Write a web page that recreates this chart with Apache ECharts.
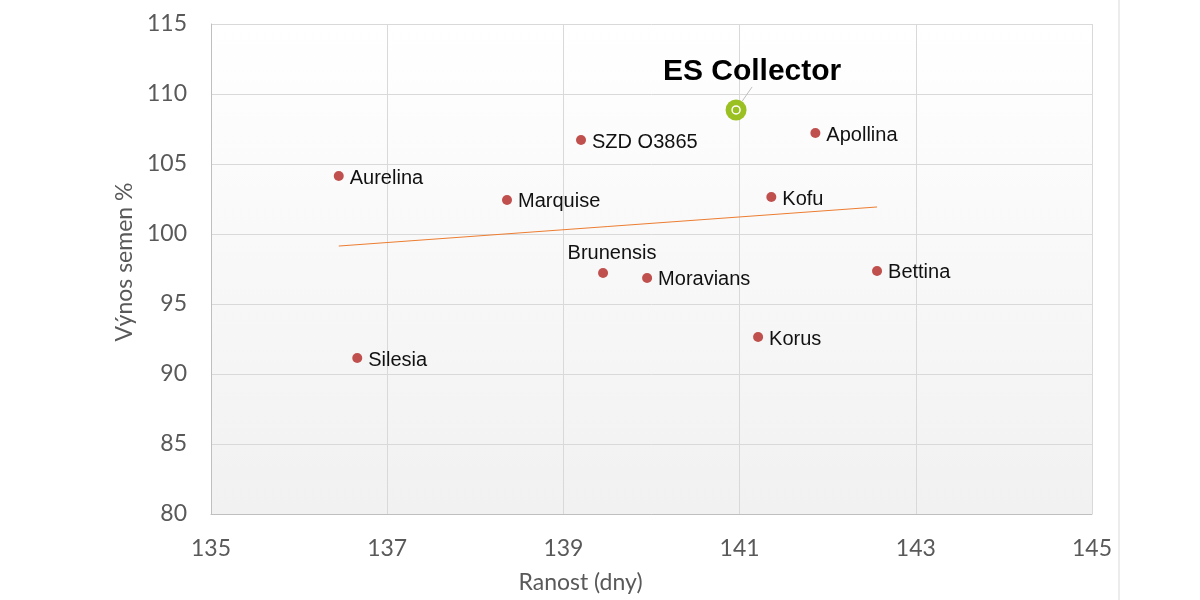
<!DOCTYPE html>
<html>
<head>
<meta charset="utf-8">
<script src="https://cdn.jsdelivr.net/npm/echarts@6/dist/echarts.min.js"></script>
<style>
  html, body { margin: 0; padding: 0; background: #fff; }
  #chart { width: 1200px; height: 600px; }
</style>
</head>
<body>
<div id="chart"></div>
<script>
// odrůdy a jejich hodnoty
const varieties = ['Aurelina', 'Silesia', 'Marquise', 'SZD O3865', 'Brunensis', 'Moravians', 'Kofu', 'Apollina', 'Korus', 'Bettina']
const ranost = [136.45, 136.66, 138.36, 139.2, 139.45, 139.95, 141.36, 141.86, 141.21, 142.56]
const vynos = [104.14, 91.14, 102.43, 106.71, 97.21, 96.86, 102.64, 107.21, 92.64, 97.36]

const highlightName = ['ES Collector']
const highlightX = [140.96]
const highlightY = [108.86]

// spojnice trendu - koncové body
const trendX = [136.45, 142.56]
const trendY = [99.14, 101.93]

const chart = echarts.init(document.getElementById('chart'))

const axisFont = 'Lato, "Open Sans", sans-serif'
const labelFont = '"Liberation Sans", Arial, sans-serif'

const option = {
  animation: false,
  backgroundColor: '#fff',
  grid: {
    left: 211,
    right: 108,
    top: 24,
    bottom: 86,
    show: true,
    borderWidth: 0,
    backgroundColor: new echarts.graphic.LinearGradient(0, 0, 0, 1, [
      { offset: 0, color: '#ffffff' },
      { offset: 1, color: '#f1f1f1' },
    ]),
  },
  xAxis: {
    type: 'value',
    min: 135,
    max: 145,
    interval: 2,
    name: 'Ranost (dny)',
    nameLocation: 'middle',
    nameGap: 57,
    nameTextStyle: { color: '#595959', fontSize: 23, fontFamily: axisFont, padding: [0, 142, 0, 0] },
    axisLine: { show: true, lineStyle: { color: '#bfbfbf' } },
    axisTick: { show: false },
    axisLabel: { color: '#595959', fontSize: 23, fontFamily: axisFont, margin: 23 },
    splitLine: { show: true, lineStyle: { color: '#d9d9d9' } },
  },
  yAxis: {
    type: 'value',
    min: 80,
    max: 115,
    interval: 5,
    name: 'Výnos semen %',
    nameLocation: 'middle',
    nameGap: 74,
    nameTextStyle: { color: '#595959', fontSize: 23, fontFamily: axisFont, padding: [0, 0, 0, 14] },
    axisLine: { show: true, lineStyle: { color: '#bfbfbf' } },
    axisTick: { show: false },
    axisLabel: { color: '#595959', fontSize: 23, fontFamily: axisFont, margin: 24 },
    splitLine: { show: true, lineStyle: { color: '#d9d9d9' } },
  },
  graphic: [
    {
      type: 'line',
      shape: { x1: 1119, y1: 0, x2: 1119, y2: 600 },
      style: { stroke: '#d9d9d9', lineWidth: 1 },
    },
  ],
  series: [
    {
      name: 'trend',
      type: 'line',
      data: trendX.map((x, i) => [x, trendY[i]]),
      symbol: 'none',
      lineStyle: { color: '#ed7d31', width: 1 },
      silent: true,
      z: 2,
    },
    {
      name: 'odrůdy',
      type: 'scatter',
      data: varieties.map((n, i) => ({
        name: n,
        value: [ranost[i], vynos[i]],
        label: n === 'Brunensis' ? { position: 'top', distance: 5, offset: [9, 0] } : undefined,
      })),
      symbolSize: 10,
      itemStyle: { color: '#c0504d', opacity: 1 },
      label: {
        show: true,
        position: 'right',
        distance: 6,
        offset: [0, 2],
        formatter: '{b}',
        color: '#111',
        fontSize: 20,
        fontFamily: labelFont,
      },
      z: 3,
    },
    {
      name: 'ES Collector',
      type: 'scatter',
      data: highlightName.map((n, i) => ({ name: n, value: [highlightX[i], highlightY[i]] })),
      symbolSize: 21,
      itemStyle: { color: '#9bc021', opacity: 1 },
      label: {
        show: true,
        position: 'inside',
        formatter: '{b}',
        color: '#000',
        fontSize: 30,
        fontWeight: 'bold',
        fontFamily: labelFont,
      },
      labelLayout: { dx: 16, dy: -38 },
      labelLine: { show: true, lineStyle: { color: '#bfbfbf', width: 1 } },
      z: 4,
    },
    {
      name: 'ES Collector kruh',
      type: 'scatter',
      data: highlightX.map((x, i) => [x, highlightY[i]]),
      symbolSize: 8,
      itemStyle: { color: 'rgba(0,0,0,0)', borderColor: '#fff', borderWidth: 1.5, opacity: 1 },
      silent: true,
      z: 5,
    },
  ],
}

chart.setOption(option)
</script>
</body>
</html>
